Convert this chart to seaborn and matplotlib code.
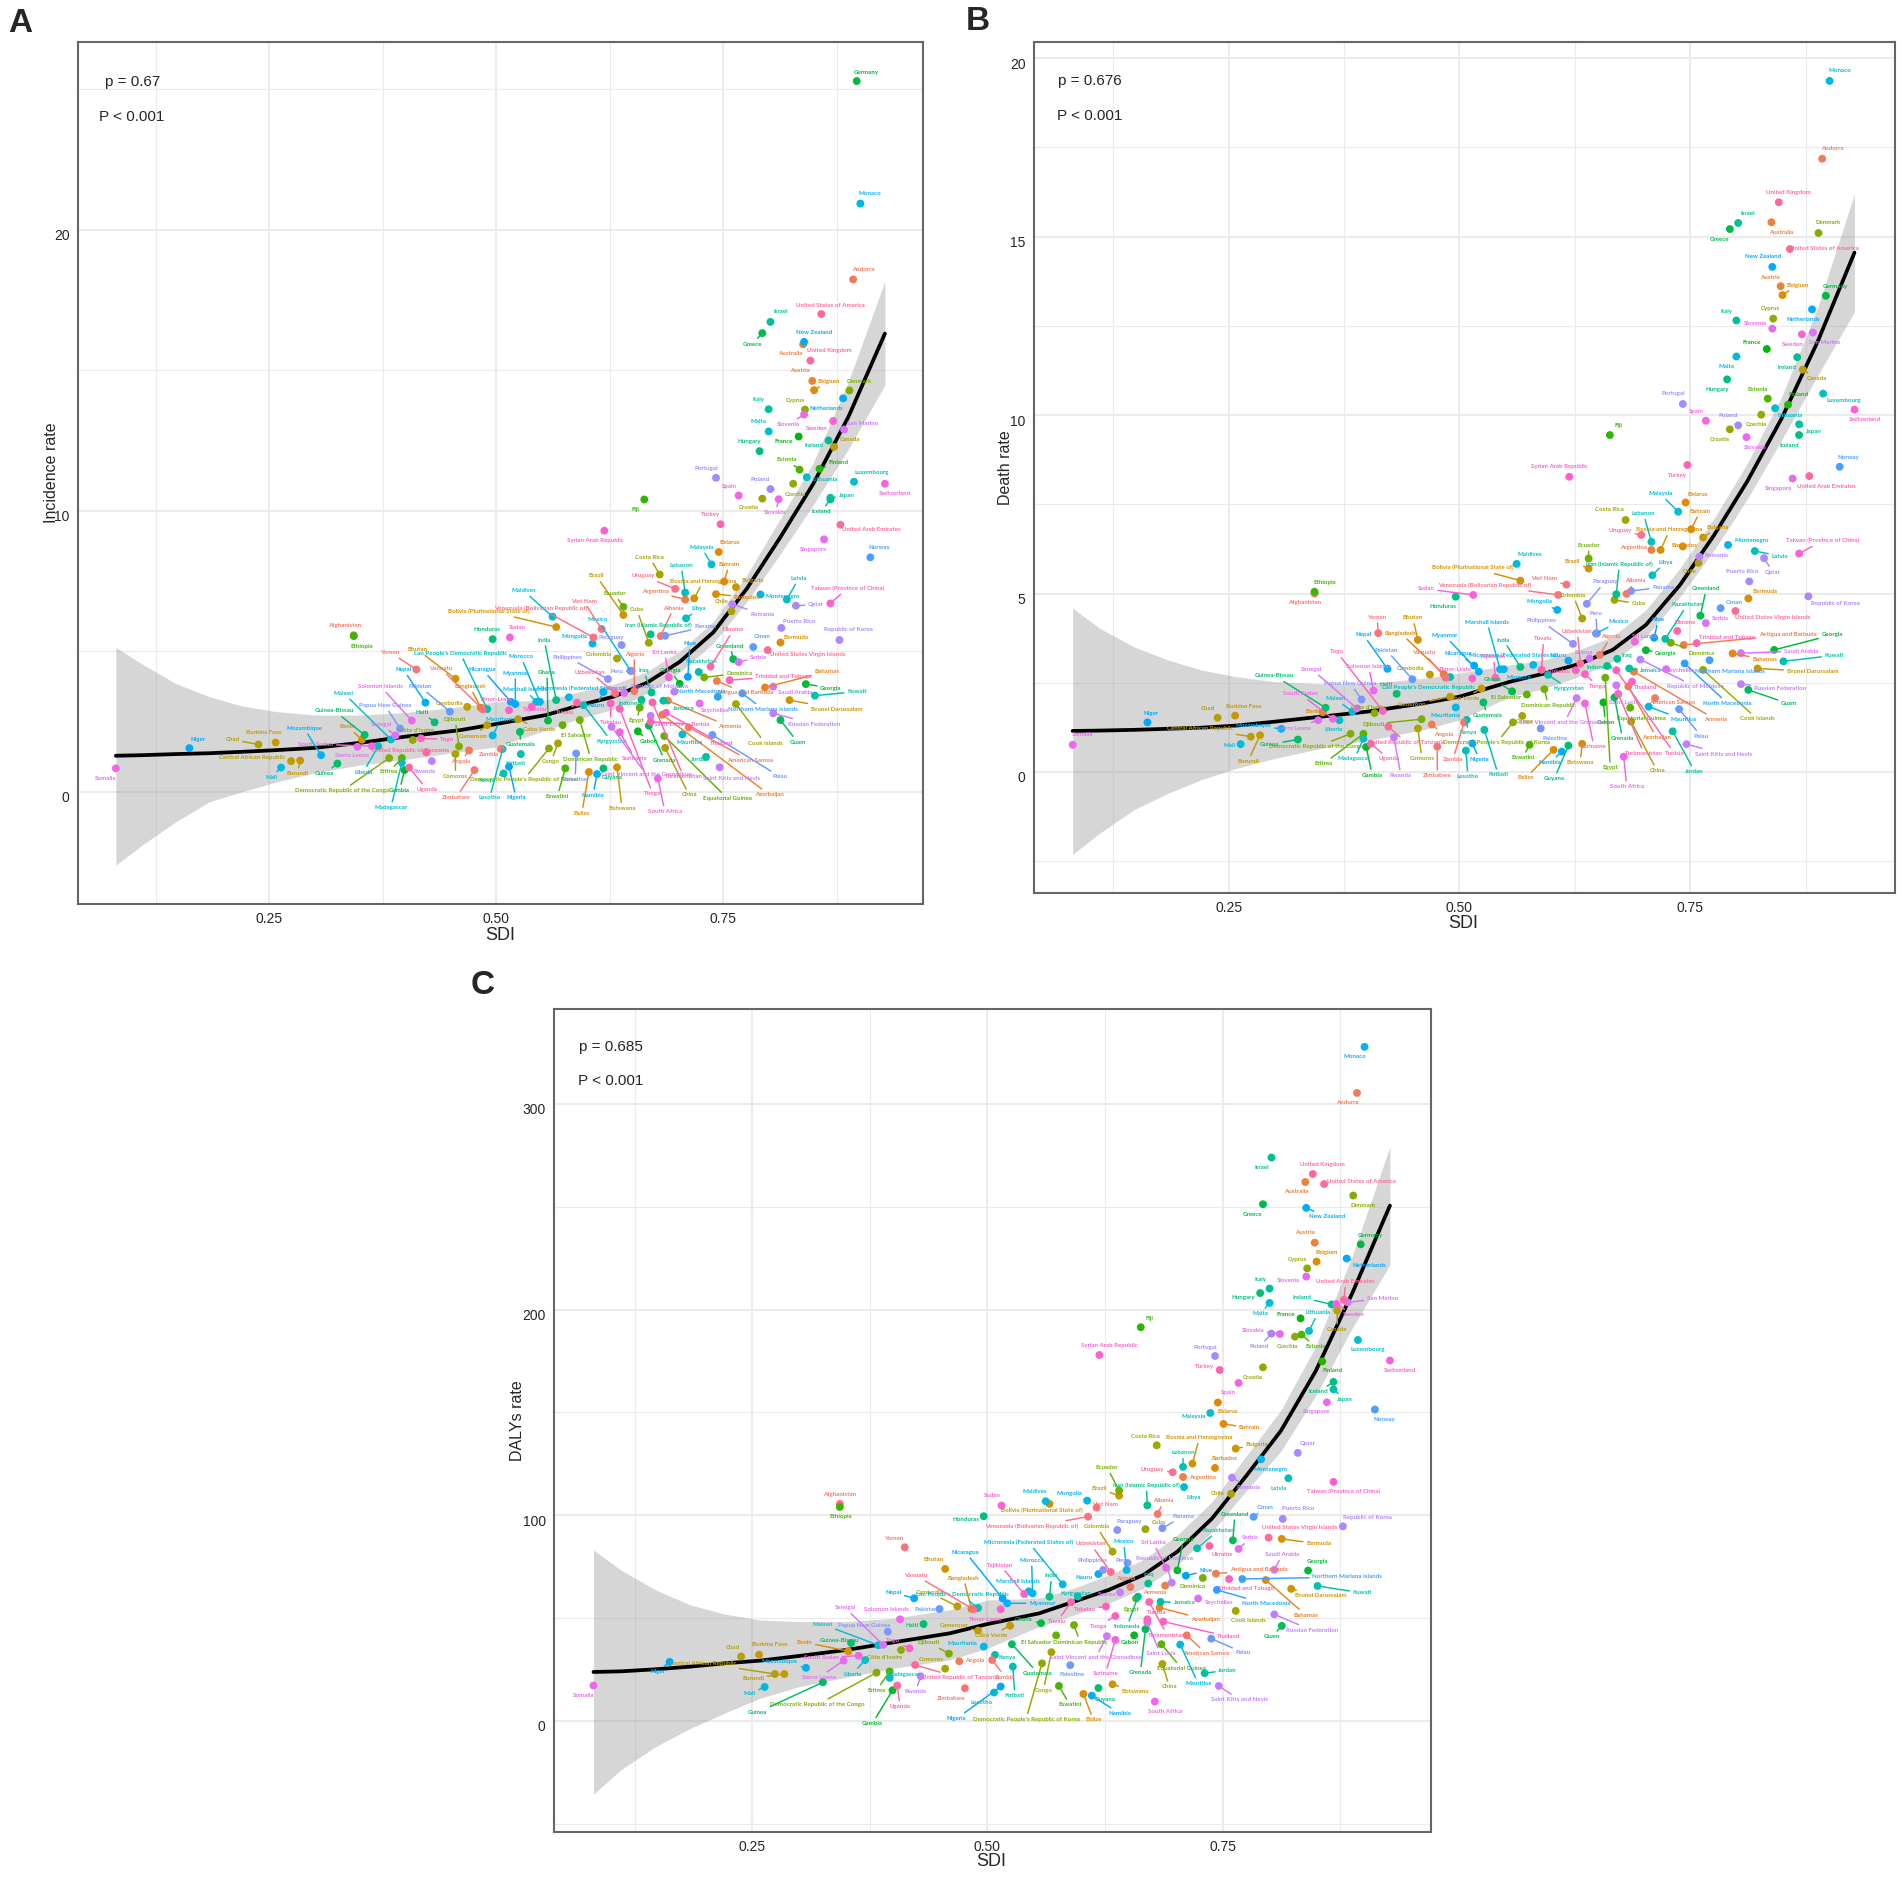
import numpy as np
import pandas as pd
import seaborn as sns
import matplotlib
matplotlib.use("Agg")
import matplotlib.pyplot as plt
from matplotlib.transforms import ScaledTranslation

COUNTRIES = [
    "Afghanistan", "Albania", "Algeria", "American Samoa", "Andorra", "Angola", "Antigua and Barbuda", "Argentina", "Armenia", "Australia",
    "Austria", "Azerbaijan", "Bahamas", "Bahrain", "Bangladesh", "Barbados", "Belarus", "Belgium", "Belize", "Benin",
    "Bermuda", "Bhutan", "Bolivia (Plurinational State of)", "Bosnia and Herzegovina", "Botswana", "Brazil", "Brunei Darussalam", "Bulgaria", "Burkina Faso", "Burundi",
    "Cabo Verde", "Cambodia", "Cameroon", "Canada", "Central African Republic", "Chad", "Chile", "China", "Colombia", "Comoros",
    "Congo", "Cook Islands", "Costa Rica", "Croatia", "Cuba", "Cyprus", "Czechia", "Côte d'Ivoire", "Democratic People's Republic of Korea", "Democratic Republic of the Congo",
    "Denmark", "Djibouti", "Dominica", "Dominican Republic", "Ecuador", "Egypt", "El Salvador", "Equatorial Guinea", "Eritrea", "Estonia",
    "Eswatini", "Ethiopia", "Fiji", "Finland", "France", "Gabon", "Gambia", "Georgia", "Georgia ", "Germany",
    "Ghana", "Greece", "Greenland", "Grenada", "Guam", "Guatemala", "Guinea", "Guinea-Bissau", "Guyana", "Haiti",
    "Honduras", "Hungary", "Iceland", "India", "Indonesia", "Iran (Islamic Republic of)", "Iraq", "Ireland", "Israel", "Italy",
    "Jamaica", "Japan", "Jordan", "Kazakhstan", "Kenya", "Kiribati", "Kuwait", "Kyrgyzstan", "Lao People's Democratic Republic", "Latvia",
    "Lebanon", "Lesotho", "Liberia", "Libya", "Lithuania", "Luxembourg", "Madagascar", "Malawi", "Malaysia", "Maldives",
    "Mali", "Malta", "Marshall Islands", "Mauritania", "Mauritius", "Mexico", "Micronesia (Federated States of)", "Monaco", "Mongolia", "Montenegro",
    "Morocco", "Mozambique", "Myanmar", "Namibia", "Nauru", "Nepal", "Netherlands", "New Zealand", "Nicaragua", "Niger",
    "Nigeria", "Niue", "North Macedonia", "Northern Mariana Islands", "Norway", "Oman", "Pakistan", "Palau", "Palestine", "Panama",
    "Papua New Guinea", "Paraguay", "Peru", "Philippines", "Poland", "Portugal", "Puerto Rico", "Qatar", "Republic of Korea", "Republic of Moldova",
    "Romania", "Russian Federation", "Rwanda", "Saint Kitts and Nevis", "Saint Lucia", "Saint Vincent and the Grenadines", "Samoa", "San Marino", "Saudi Arabia", "Senegal",
    "Serbia", "Seychelles", "Sierra Leone", "Singapore", "Slovakia", "Slovenia", "Solomon Islands", "Somalia", "South Africa", "South Sudan",
    "Spain", "Sri Lanka", "Sudan", "Suriname", "Sweden", "Switzerland", "Syrian Arab Republic", "Taiwan (Province of China)", "Tajikistan", "Thailand",
    "Timor-Leste", "Togo", "Tokelau", "Tonga", "Trinidad and Tobago", "Tunisia", "Turkey", "Turkmenistan", "Tuvalu", "Uganda",
    "Ukraine", "United Arab Emirates", "United Kingdom", "United Republic of Tanzania", "United States of America", "United States Virgin Islands", "Uruguay", "Uzbekistan", "Vanuatu", "Venezuela (Bolivarian Republic of)",
    "Viet Nam", "Yemen", "Zambia", "Zimbabwe",
]

SDI = [
    .343, .681, .652, .712, .893, .470, .743, .708, .689, .838,
    .848, .683, .796, .751, .483, .742, .745, .850, .602, .352,
    .813, .455, .566, .718, .633, .640, .823, .764, .257, .284,
    .524, .468, .490, .872, .274, .238, .759, .686, .633, .455,
    .568, .764, .680, .793, .668, .840, .827, .408, .558, .382,
    .889, .459, .729, .592, .640, .658, .573, .685, .396, .834,
    .576, .343, .663, .856, .833, .656, .399, .702, .841, .897,
    .557, .793, .761, .668, .813, .526, .325, .355, .618, .432,
    .496, .790, .868, .566, .660, .670, .671, .866, .802, .800,
    .684, .868, .731, .723, .508, .527, .851, .596, .490, .820,
    .708, .507, .370, .709, .842, .894, .396, .384, .737, .562,
    .263, .800, .544, .496, .705, .648, .580, .901, .606, .791,
    .548, .307, .521, .611, .618, .422, .882, .839, .516, .162,
    .514, .711, .744, .771, .912, .783, .449, .738, .588, .686,
    .394, .638, .649, .623, .802, .742, .814, .830, .878, .696,
    .760, .805, .429, .746, .670, .627, .641, .883, .805, .389,
    .767, .724, .347, .861, .811, .839, .407, .081, .678, .363,
    .767, .690, .515, .636, .871, .928, .619, .868, .539, .687,
    .514, .417, .626, .636, .757, .670, .747, .672, .589, .404,
    .736, .879, .846, .423, .858, .799, .697, .631, .485, .607,
    .616, .412, .505, .476,
]

INCIDENCE = [
    5.57, 5.54, 3.58, 2.29, 18.23, 1.47, 3.94, 6.84, 3.24, 15.92,
    14.62, 2.74, 3.71, 7.48, 2.99, 7.03, 8.53, 14.29, .70, 1.85,
    5.31, 4.02, 5.86, 6.88, .87, 6.29, 3.26, 7.28, 1.75, 1.11,
    2.58, 3.02, 2.37, 12.27, 1.09, 1.68, 6.42, 1.56, 4.74, 1.34,
    1.72, 3.12, 7.73, 10.43, 5.30, 13.60, 10.96, 1.84, 1.54, 1.20,
    14.28, 1.61, 4.07, 2.55, 6.58, 2.99, 2.37, 1.98, 1.20, 11.46,
    .83, 5.54, 10.40, 11.49, 12.64, 2.15, .77, 3.84, 3.83, 25.29,
    2.53, 16.32, 4.72, 2.35, 2.55, 2.13, 1.00, 2.02, .83, 2.47,
    5.43, 12.12, 10.40, 3.26, 3.27, 5.60, 3.53, 12.50, 16.72, 13.61,
    3.24, 10.46, 1.24, 4.26, .65, 1.34, 3.42, 3.08, 2.94, 6.84,
    7.09, 1.52, 1.62, 6.17, 11.19, 11.03, 1.03, 1.86, 8.09, 6.23,
    .86, 12.82, 3.20, 2.00, 2.04, 4.30, 3.36, 20.93, 5.27, 7.02,
    3.20, 1.30, 3.12, .63, 3.55, 3.17, 14.00, 16.01, 3.20, 1.55,
    .89, 4.09, 3.38, 3.50, 8.34, 5.15, 2.85, 2.02, 1.36, 5.55,
    2.25, 5.22, 4.30, 4.01, 10.77, 11.17, 5.83, 6.62, 5.40, 3.56,
    6.67, 2.79, 1.09, .87, 2.70, 2.31, 3.51, 12.89, 3.74, 2.00,
    4.61, 3.14, 1.60, 8.98, 10.41, 13.42, 2.53, .83, .47, 1.62,
    10.54, 4.07, 5.49, 2.12, 13.19, 10.96, 9.29, 6.70, 3.02, 2.81,
    2.90, 1.90, 3.14, 2.95, 3.97, 2.49, 9.52, 3.18, 3.17, .86,
    4.45, 9.50, 15.34, 1.40, 17.00, 5.04, 7.22, 3.50, 2.93, 5.49,
    5.79, 4.35, 1.52, .77,
]

DEATH = [
    5.00, 4.99, 3.28, 2.07, 17.18, 1.33, 3.56, 6.22, 2.81, 15.40,
    13.61, 2.40, 3.32, 6.80, 2.74, 6.32, 7.55, 13.36, .62, 1.67,
    4.86, 3.70, 5.36, 6.22, .79, 5.70, 2.90, 6.57, 1.58, 1.03,
    2.34, 2.73, 2.11, 11.27, .99, 1.52, 5.86, 1.41, 4.30, 1.22,
    1.57, 2.86, 7.06, 9.60, 4.82, 12.70, 10.01, 1.65, 1.39, 1.07,
    15.10, 1.48, 3.62, 2.32, 5.98, 2.64, 2.17, 1.80, 1.07, 10.46,
    .76, 5.05, 9.44, 10.29, 11.85, 1.95, .70, 3.41, 3.42, 13.34,
    2.26, 15.21, 4.38, 2.09, 2.30, 1.95, .91, 1.80, .74, 2.19,
    4.91, 11.00, 9.44, 2.94, 2.97, 4.98, 3.17, 11.62, 15.38, 12.65,
    2.90, 9.74, 1.14, 3.73, 1.46, 1.18, 3.10, 2.72, 2.66, 6.19,
    6.45, .60, 1.45, 5.51, 10.19, 10.60, .93, 1.69, 7.29, 5.83,
    .78, 11.64, 2.88, 1.81, 1.83, 3.88, 3.00, 19.36, 4.54, 6.36,
    2.88, 1.21, 2.81, .57, 3.12, 2.89, 12.96, 14.15, 2.98, 1.39,
    .80, 3.76, 3.04, 3.13, 8.55, 4.59, 2.60, 1.76, 1.22, 5.07,
    2.03, 4.71, 3.88, 3.59, 9.71, 10.31, 5.34, 5.99, 4.92, 3.15,
    6.03, 2.46, .97, .78, 2.43, 2.07, 3.18, 12.31, 3.33, 1.78,
    4.17, 2.88, 1.45, 8.22, 9.38, 12.42, 2.28, .76, .43, 1.49,
    9.84, 3.65, 4.96, 1.92, 12.26, 10.15, 8.27, 6.12, 2.64, 2.53,
    2.62, 1.71, 2.85, 2.74, 3.61, 2.85, 8.60, 2.19, 2.86, .79,
    3.95, 8.29, 15.96, 1.27, 14.65, 4.51, 6.64, 3.04, 2.64, 4.96,
    5.25, 3.89, 1.39, .71,
]

DALY = [
    105.5, 100.6, 65.1, 41.6, 305.3, 29.0, 71.6, 118.6, 65.8, 262.0,
    232.5, 55.1, 68.5, 144.4, 54.4, 123.0, 154.8, 223.3, 13.1, 33.9,
    88.5, 73.9, 105.5, 125.1, 17.8, 109.5, 64.2, 132.4, 32.2, 22.8,
    46.3, 55.7, 43.9, 199.5, 22.8, 31.3, 110.4, 27.7, 82.3, 25.4,
    33.4, 53.5, 134.0, 171.9, 93.2, 220.0, 186.8, 34.5, 28.0, 23.5,
    255.4, 32.7, 69.5, 46.6, 112.0, 59.5, 41.6, 37.3, 24.1, 187.8,
    17.0, 104.0, 191.4, 174.8, 195.7, 41.6, 14.9, 73.2, 73.1, 231.7,
    47.5, 251.2, 87.8, 44.6, 46.2, 37.3, 18.8, 37.9, 16.0, 47.1,
    99.5, 208.0, 164.8, 60.4, 60.4, 104.8, 66.8, 202.5, 273.9, 210.2,
    57.9, 161.2, 23.2, 83.9, 32.1, 26.4, 65.6, 60.5, 54.9, 118.0,
    123.5, 13.8, 29.6, 113.7, 189.6, 185.2, 20.9, 36.8, 149.7, 106.8,
    16.5, 203.2, 63.0, 36.1, 37.1, 73.4, 66.4, 327.7, 107.1, 127.2,
    62.0, 25.8, 57.2, 12.3, 71.4, 59.6, 224.8, 249.4, 59.6, 28.7,
    16.7, 70.6, 63.7, 69.0, 151.4, 99.2, 54.4, 40.0, 27.1, 93.7,
    43.4, 92.8, 76.8, 73.4, 188.3, 177.4, 98.2, 130.3, 94.6, 67.2,
    118.3, 51.8, 21.7, 17.0, 47.8, 41.2, 62.5, 203.5, 73.5, 37.0,
    83.6, 59.5, 29.3, 154.9, 188.1, 216.0, 49.4, 17.2, 9.4, 31.7,
    164.3, 74.5, 104.7, 39.4, 202.7, 175.2, 177.9, 116.2, 61.7, 48.3,
    54.3, 35.3, 55.6, 51.0, 69.0, 49.4, 170.6, 57.8, 57.7, 17.2,
    85.1, 204.7, 265.9, 27.2, 261.0, 89.1, 120.9, 72.4, 54.3, 99.3,
    103.7, 84.4, 29.6, 15.9,
]

# smooth line and its grey band at these SDI values
CURVE_SDI = [.081, .11, .147, .184, .22, .258, .3, .35, .4, .46, .5, .555, .592, .629, .666, .702, .739, .776, .812, .849, .888, .928]
FIT_A = [1.28, 1.30, 1.34, 1.37, 1.42, 1.48, 1.56, 1.74, 1.96, 2.19, 2.41, 2.73, 3.08, 3.38, 3.88, 4.62, 5.67, 7.23, 9.01, 10.95, 13.35, 16.3]
LOW_A = [-2.61, -1.9, -1.07, -.36, 0, .35, .67, .95, 1.15, 1.42, 1.6, 2.19, 2.61, 2.93, 3.5, 4.25, 5.28, 6.76, 8.42, 10.2, 12.2, 14.47]
HIGH_A = [5.14, 4.54, 3.85, 3.38, 3.05, 2.85, 2.73, 2.73, 2.82, 3.02, 3.2, 3.26, 3.56, 3.82, 4.27, 5.0, 6.05, 7.71, 9.67, 11.7, 14.6, 18.17]
FIT_B = [1.15, 1.16, 1.18, 1.21, 1.24, 1.3, 1.41, 1.55, 1.69, 1.92, 2.11, 2.53, 2.76, 3.02, 3.42, 4.12, 5.24, 6.64, 8.15, 9.9, 12.05, 14.55]
LOW_B = [-2.31, -1.72, -1.06, -.6, -.22, .1, .38, .66, .88, 1.18, 1.46, 2.11, 2.34, 2.67, 3.09, 3.79, 4.91, 6.22, 7.65, 9.3, 11.1, 12.89]
HIGH_B = [4.59, 4.03, 3.51, 3.14, 2.86, 2.67, 2.53, 2.47, 2.48, 2.62, 2.77, 3.0, 3.14, 3.42, 3.79, 4.54, 5.71, 7.11, 8.65, 10.5, 13.0, 16.2]
FIT_C = [23.8, 24.1, 25.1, 26.4, 28, 29.3, 31.6, 34.5, 38.2, 42.6, 47.1, 52.3, 58, 63.7, 71, 82.3, 98.5, 119.6, 141, 170, 208, 250.5]
LOW_C = [-35.6, -23.8, -12.5, -3.6, 3.7, 11, 16.7, 21.2, 25.6, 29.7, 35.3, 45.9, 51.5, 57.2, 64.5, 75.8, 92, 112.3, 131, 158, 191, 221.7]
HIGH_C = [83.1, 73.4, 63.7, 56.4, 52, 49.1, 48.3, 48.3, 49.9, 54, 58.8, 59.6, 64.5, 71, 78.3, 90.4, 106.6, 129.3, 151, 182, 226, 279.2]

# label offsets from each point, image pixels (right, down)
OFFSETS_A = [
    (-9, -10), (13, -28), (0, -37), (61, 33), (10, -10), (-8, 11), (28, 12), (-30, -8), (62, 26), (-13, 9),
    (-12, -10), (107, 80), (62, -16), (5, -17), (-11, -21), (31, 3), (11, -10), (15, -9), (-7, 41), (-14, -13),
    (16, -5), (-38, -29), (-67, -16), (9, -17), (5, 41), (-27, -39), (47, 9), (17, -7), (-12, -10), (-3, 13),
    (21, 10), (-18, -3), (-14, 11), (16, -7), (-39, -4), (-26, -5), (-10, -10), (24, 47), (-18, -4), (0, 22),
    (-7, 18), (29, 39), (-10, -17), (-14, 9), (-12, -33), (-10, -9), (2, 11), (4, -10), (-25, 31), (-47, 33),
    (10, -9), (-4, -27), (35, -4), (11, 39), (-9, -13), (-3, 13), (14, 10), (63, 62), (-13, 14), (-13, -10),
    (-8, 28), (8, 10), (-9, 10), (19, -6), (-15, 5), (11, 10), (-5, 20), (-9, -13), (25, 4), (10, -9),
    (-1, -48), (-10, 11), (-3, -13), (16, 35), (17, 22), (1, 13), (-13, 10), (-30, -24), (9, 9), (-12, -10),
    (-6, -10), (-10, -10), (-9, 12), (-12, -60), (-10, 4), (8, -9), (-8, -22), (-15, 5), (10, -10), (-10, -10),
    (20, 8), (16, -2), (-6, 3), (3, -11), (-16, 7), (-5, 9), (42, -4), (28, 36), (-27, -56), (12, -21),
    (-4, -27), (-13, 49), (-15, 26), (13, -10), (18, 2), (18, -9), (-11, 45), (-47, -46), (-10, -17), (-29, -26),
    (-10, 10), (-10, -10), (-11, -12), (8, -16), (7, 8), (-33, -51), (13, -9), (10, -10), (-18, -7), (22, 2),
    (-19, -45), (-17, -27), (0, -31), (-4, 21), (-7, 14), (-22, -33), (-17, 10), (10, -9), (-28, -32), (9, -9),
    (7, 31), (2, -33), (-17, -5), (21, 16), (9, -10), (9, -10), (-30, -25), (68, 42), (-1, 26), (40, -9),
    (-15, -23), (-10, -8), (-15, 1), (-41, -22), (-10, -10), (-10, -9), (18, -6), (20, -1), (9, -10), (-15, -5),
    (30, 10), (41, 11), (-7, 10), (12, 11), (18, 9), (35, 48), (-7, -5), (19, -6), (22, 6), (-14, -11),
    (20, -5), (16, 7), (-5, 9), (-10, 10), (-3, 13), (-16, 10), (-31, -34), (-10, 10), (7, 33), (-56, -2),
    (-9, -9), (-4, -25), (7, -10), (15, 26), (-16, 7), (10, 10), (-9, 10), (17, -15), (4, 3), (56, 31),
    (-12, -11), (26, 1), (0, 19), (33, 85), (54, -4), (50, 3), (-10, -10), (31, 74), (-12, 10), (18, 22),
    (23, -37), (31, 5), (19, -10), (-16, -2), (9, -9), (40, 4), (-32, -13), (-25, -21), (-42, -41), (-53, -29),
    (-18, -28), (-26, -17), (-12, 6), (-18, 27),
]

OFFSETS_B = [
    (-10, 9), (9, -13), (11, -18), (17, 4), (10, -10), (12, 10), (104, -10), (-18, -2), (82, 48), (10, 10),
    (-11, -9), (28, 51), (32, 6), (9, -18), (-43, -41), (2, -1), (12, -8), (15, -10), (-28, 28), (-9, -1),
    (17, -7), (-5, -22), (-48, -13), (9, -20), (-2, 19), (-16, -7), (55, 3), (15, -10), (9, -9), (-12, 26),
    (-18, 10), (-19, -6), (-38, 8), (14, 9), (-51, -8), (-10, -9), (-9, 9), (26, 49), (-9, -23), (4, 30),
    (3, 6), (54, 49), (-16, -10), (-10, 10), (24, 4), (-3, -10), (-5, 10), (-6, -6), (-16, 20), (-34, 13),
    (10, -10), (-48, 5), (31, 11), (4, 16), (0, -13), (5, 90), (-21, 3), (11, 11), (-40, 30), (-10, -9),
    (-7, 13), (10, -9), (9, -10), (10, -10), (-15, -6), (2, 20), (6, 28), (20, 3), (58, -15), (9, -9),
    (-19, -12), (-10, 10), (6, -27), (8, 41), (41, 14), (4, 13), (-28, 5), (-51, -32), (-14, 33), (-11, -9),
    (-13, 10), (-10, 10), (-10, 10), (-17, -27), (-7, 2), (3, -30), (10, -3), (-10, 10), (10, -9), (-10, -9),
    (22, 2), (15, 7), (22, 40), (22, -34), (1, 13), (14, 45), (51, -6), (21, 14), (-22, 10), (25, 5),
    (-8, -28), (2, 26), (-6, 9), (13, -13), (15, 7), (21, 7), (-9, 20), (-17, -13), (-18, -18), (13, -9),
    (-11, 1), (-10, 10), (-13, -47), (-10, 8), (35, 13), (23, -12), (-20, -10), (10, -10), (-18, -8), (24, -4),
    (15, 8), (-28, -3), (-34, -36), (-12, 11), (-10, -5), (-24, -34), (-9, 10), (-9, -10), (-16, -12), (4, -9),
    (7, 16), (4, -18), (43, 40), (20, 11), (9, -9), (14, -6), (-26, -29), (22, 27), (14, 10), (32, -4),
    (-11, -16), (18, -22), (-1, -20), (-32, -23), (-10, -10), (-10, -10), (-7, -10), (9, 14), (27, 7), (55, 27),
    (17, -1), (39, 4), (7, 38), (37, 10), (7, 17), (-12, 24), (-5, -6), (12, 10), (60, -2), (-45, -39),
    (14, -5), (15, 1), (-24, 8), (-14, 10), (9, 10), (-17, -5), (-5, -24), (10, -10), (3, 30), (-33, -25),
    (-10, -9), (10, -5), (-47, -6), (9, 43), (-9, 10), (10, 10), (-10, -10), (24, -13), (-2, -21), (14, 6),
    (-17, -9), (-46, -59), (-16, 1), (13, 12), (31, -6), (58, 83), (-10, 10), (26, 60), (2, -31), (18, 15),
    (8, -8), (17, 10), (10, -10), (18, 16), (35, -1), (37, 7), (-21, -4), (-3, -32), (-22, -25), (-74, -10),
    (-22, -6), (-1, -16), (-11, 37), (0, 29),
]

OFFSETS_C = [
    (0, -9), (6, -13), (-5, -9), (19, 18), (-10, 10), (15, -1), (43, -4), (19, 1), (-11, 7), (-9, 10),
    (-10, -10), (46, 12), (40, 35), (26, 4), (-8, -31), (9, -9), (10, 9), (10, -9), (10, 26), (-44, -9),
    (37, 5), (-12, -9), (-8, 6), (7, -26), (23, 7), (-20, -7), (30, 7), (21, -4), (11, -10), (-31, 4),
    (-19, 10), (-28, -14), (-24, -5), (0, 19), (-72, -11), (-8, -9), (-13, 0), (7, 23), (-16, -25), (-14, -9),
    (-8, 38), (13, 10), (-11, -9), (-10, 10), (13, -7), (-10, -9), (-8, 10), (-16, 8), (-16, 56), (-59, 32),
    (10, 10), (-20, -11), (-10, 9), (6, 17), (-12, -23), (-5, 11), (-20, 7), (20, 24), (-13, 19), (14, 12),
    (11, 19), (1, 10), (9, -9), (10, 9), (-15, -4), (-4, 7), (-20, 33), (6, -31), (9, -9), (10, -9),
    (-17, -4), (-10, 10), (2, -26), (-5, 43), (-10, 11), (26, 29), (-65, 30), (-12, -2), (7, 11), (-11, 1),
    (-18, 3), (-17, 4), (-15, 10), (2, -21), (-11, 30), (-1, -20), (1, -9), (-30, -7), (-10, 10), (-9, -9),
    (24, 1), (11, 10), (23, -3), (21, -18), (12, 3), (2, 29), (45, 7), (-2, -3), (-16, -13), (-10, 10),
    (0, -14), (-12, 10), (-13, 14), (10, 10), (9, -18), (10, 10), (14, -3), (-56, -21), (-17, 4), (-11, -10),
    (-15, 7), (-9, 11), (-11, -10), (-21, -3), (18, 39), (-3, -28), (-34, -42), (-10, 10), (-18, -7), (10, 10),
    (-1, -33), (-26, -6), (35, 0), (28, 18), (-14, 3), (-21, -6), (23, 7), (21, 9), (-37, -46), (-12, 10),
    (-44, 32), (20, -5), (49, 14), (105, -2), (10, 10), (12, -9), (-13, 0), (32, 14), (2, 9), (21, -12),
    (-24, -6), (12, -9), (-6, -2), (-11, -9), (-12, 13), (-10, -9), (15, -10), (10, -9), (25, -9), (-7, -24),
    (17, 10), (38, 16), (-5, 15), (21, 14), (13, 31), (-11, 21), (-13, 2), (35, -4), (8, -15), (-38, -37),
    (12, -11), (21, 4), (-25, 17), (-10, 9), (-27, -4), (-18, 4), (-14, -10), (-10, 10), (10, 10), (-37, 2),
    (-10, 10), (-13, -25), (-9, -10), (-10, 34), (17, 11), (10, 10), (10, -9), (10, 9), (-24, -29), (65, 15),
    (-15, 10), (-16, -8), (-21, 3), (-17, 10), (17, 10), (9, -7), (-15, -4), (18, 33), (-14, 19), (3, 21),
    (13, 9), (2, -18), (10, -9), (45, 13), (37, -3), (31, -10), (-20, -3), (-20, -28), (-58, -34), (-56, 10),
    (8, -3), (-10, -9), (13, 17), (-14, 10),
]

W, H = 1902, 1877
SANS = ["Liberation Sans", "DejaVu Sans"]
GRID = "#EBEBEB"


def ggplot_hue(n):
    # same as hue_pal(): hcl with c=100, l=65
    cols = []
    L, C = 65.0, 100.0
    un, vn = 0.19783, 0.46832
    Y = ((L + 16) / 116) ** 3
    for i in range(n):
        h = np.deg2rad(15 + 360 * i / n)
        u = C * np.cos(h) / (13 * L) + un
        v = C * np.sin(h) / (13 * L) + vn
        X = Y * 9 * u / (4 * v)
        Z = Y * (12 - 3 * u - 20 * v) / (4 * v)
        rgb = np.array([[3.2406, -1.5372, -0.4986],
                        [-0.9689, 1.8758, 0.0415],
                        [0.0557, -0.2040, 1.0570]]) @ np.array([X, Y, Z])
        rgb = np.clip(rgb, 0, 1)
        rgb = np.where(rgb <= 0.0031308, 12.92 * rgb, 1.055 * rgb ** (1 / 2.4) - 0.055)
        cols.append(tuple(np.clip(rgb, 0, 1)))
    return cols


def plot_panel(df, col, curve, box, xlim, ylim, yticks, yminor, offsets, ylabel, ylabel_x, xlabel_pos, p_text, p_pos, letter, letter_pos):
    left, top, right, bottom = box
    ax = fig.add_axes([left / W, 1 - bottom / H, (right - left) / W, (bottom - top) / H])
    ax.set_xlim(xlim)
    ax.set_ylim(ylim)
    ax.set_axisbelow(True)

    ax.set_xticks([0.25, 0.50, 0.75], ["0.25", "0.50", "0.75"])
    ax.set_xticks([0.125, 0.375, 0.625, 0.875], minor=True)
    ax.set_yticks(yticks, [str(t) for t in yticks])
    ax.set_yticks(yminor, minor=True)
    ax.grid(True, which="major", color=GRID, lw=1.5)
    ax.grid(True, which="minor", color=GRID, lw=0.8)
    ax.tick_params(which="major", length=3, width=1.2, color="#333333", pad=3, labelsize=10)
    ax.tick_params(which="minor", length=0)
    for t in ax.get_xticklabels() + ax.get_yticklabels():
        t.set_family(SANS)
    shift = ScaledTranslation(0, -5 / 100, fig.dpi_scale_trans)
    for t in ax.get_yticklabels():
        t.set_transform(t.get_transform() + shift)
    for s in ax.spines.values():
        s.set_visible(True)
        s.set_color("#666666")
        s.set_linewidth(1.5)

    fit, low, high = curve
    ax.fill_between(CURVE_SDI, low, high, color="#999999", alpha=0.4, lw=0, zorder=2)
    sns.lineplot(x=CURVE_SDI, y=fit, color="black", lw=2.7, ax=ax, zorder=3)

    sns.scatterplot(data=df, x="SDI", y=col, hue="country", palette=PALETTE, legend=False,
                    s=32, linewidth=0, ax=ax, zorder=4)

    for name, xv, yv, (dx, dy), c in zip(COUNTRIES, df["SDI"], df[col], offsets, COLORS):
        label = name.strip()
        # connector only if the label really sits away from its point
        half_w = len(label) * 1.3
        gap = np.hypot(max(0, abs(dx) - half_w), max(0, abs(dy) - 3))
        arrow = dict(arrowstyle="-", color=c, lw=1.05, shrinkA=0, shrinkB=0) if gap > 8 else None
        ax.annotate(label, xy=(xv, yv), xytext=(dx, -dy), textcoords="offset pixels",
                    ha="center", va="center", fontsize=4.4, fontweight="bold", color=c,
                    family=["Lato", "DejaVu Sans"], arrowprops=arrow, zorder=5)

    ax.set_xlabel("")
    ax.set_ylabel("")
    fig.text(ylabel_x / W, 1 - (top + bottom) / 2 / H, ylabel, rotation=90, ha="center", va="center",
             fontsize=11.5, family=SANS)
    fig.text(xlabel_pos[0] / W, 1 - xlabel_pos[1] / H, "SDI", ha="center", va="center", fontsize=13, family=SANS)
    for txt, pos in zip(p_text, p_pos):
        fig.text(pos[0] / W, 1 - pos[1] / H, txt, ha="center", va="center", fontsize=11, family=SANS)
    fig.text(letter_pos[0] / W, 1 - letter_pos[1] / H, letter, ha="center", va="center", fontsize=24,
             fontweight="bold", family=SANS)
    return ax


if __name__ == "__main__":
    assert len(COUNTRIES) == len(SDI) == len(INCIDENCE) == len(DEATH) == len(DALY)
    assert len(COUNTRIES) == len(OFFSETS_A) == len(OFFSETS_B) == len(OFFSETS_C)

    sns.set_style("white")
    df = pd.DataFrame({"country": COUNTRIES, "SDI": SDI, "incidence": INCIDENCE, "death": DEATH, "daly": DALY})
    COLORS = ggplot_hue(len(COUNTRIES))
    PALETTE = dict(zip(COUNTRIES, COLORS))

    fig = plt.figure(figsize=(W / 100, H / 100), dpi=100)

    plot_panel(df, "incidence", (FIT_A, LOW_A, HIGH_A), (78, 42, 923, 904), (0.0393, 0.970), (-3.996, 26.68),
               [0, 10, 20], [5, 15, 25], OFFSETS_A, "Incidence rate", 52, (500, 935),
               ["p = 0.67", "P < 0.001"], [(133, 82), (132, 117)], "A", (20, 24))
    plot_panel(df, "death", (FIT_B, LOW_B, HIGH_B), (1034, 42, 1895, 893), (0.0391, 0.9719), (-3.39, 20.45),
               [0, 5, 10, 15, 20], [-2.5, 2.5, 7.5, 12.5, 17.5], OFFSETS_B, "Death rate", 1005, (1463, 924),
               ["p = 0.676", "P < 0.001"], [(1090, 81), (1090, 116)], "B", (978, 21))
    plot_panel(df, "daly", (FIT_C, LOW_C, HIGH_C), (554, 1009, 1431, 1832), (0.0390, 0.9717), (-54, 346.1),
               [0, 100, 200, 300], [-50, 50, 150, 250], OFFSETS_C, "DALYs rate", 517, (991, 1861),
               ["p = 0.685", "P < 0.001"], [(611, 1047), (611, 1081)], "C", (483, 986))

    fig.savefig("out.png", dpi=100)
